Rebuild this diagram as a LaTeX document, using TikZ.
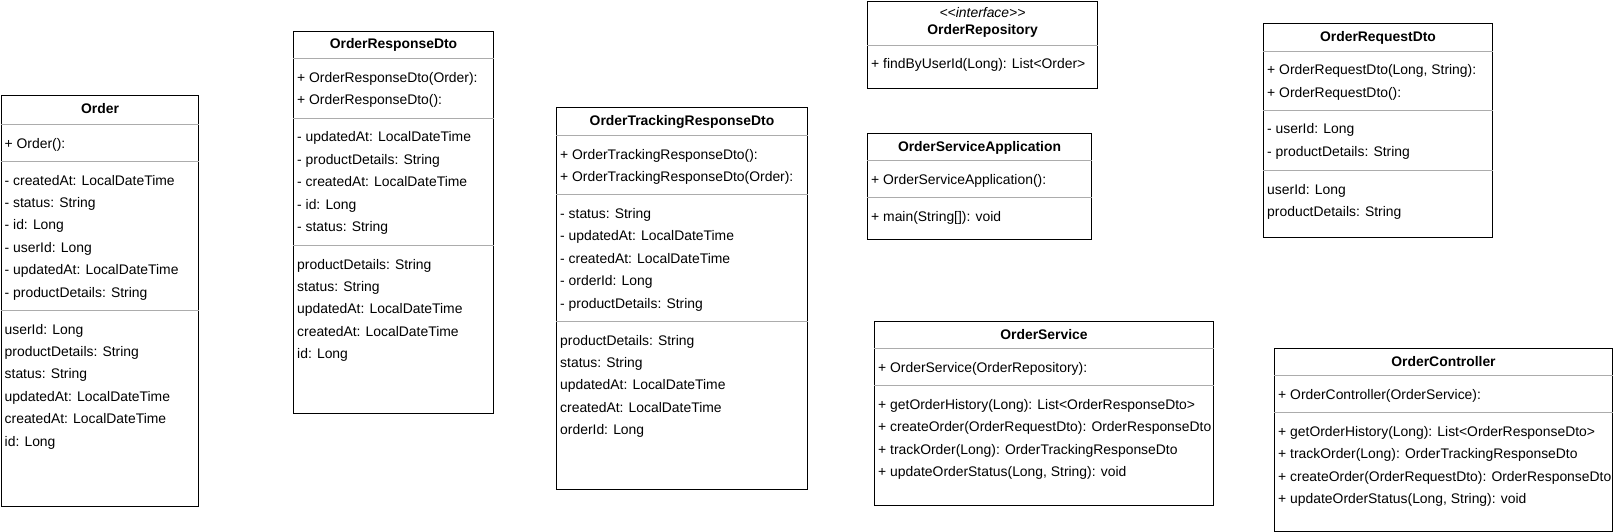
\documentclass[tikz,border=0pt]{standalone}
\usepackage{fontspec}
\setmainfont{Liberation Sans}

\begin{document}
\begin{tikzpicture}[x=1pt, y=-1pt,
    font=\fontsize{13.9}{16}\selectfont,
    classbox/.style={draw, line width=1pt, anchor=north west, inner sep=0pt},
    sep/.style={draw=gray!65, line width=0.8pt},
    classname/.style={font=\fontsize{13.9}{16}\selectfont\bfseries,
      inner sep=0pt, text height=10pt, text depth=3pt, yshift=-1pt},
    member/.style={anchor=west, inner sep=0pt, text height=10pt, text depth=3pt, yshift=-1.5pt}]
  \useasboundingbox (0,0) rectangle (1613,532);

  % Order
  \node[classbox, minimum width=197pt, minimum height=411pt] (order) at (1,95) {};
  \node[classname] (order-name) at (order.north |- 0,109) {Order};
  \draw[sep] (order.west |- 0,124) -- (order.east |- 0,124);
  \draw[sep] (order.west |- 0,161) -- (order.east |- 0,161);
  \draw[sep] (order.west |- 0,310) -- (order.east |- 0,310);
  \node[member] (order-c0) at (4.5,143) {+ Order():};
  \foreach \m [count=\i from 0] in {{- createdAt: LocalDateTime}, {- status: String},
      {- id: Long}, {- userId: Long}, {- updatedAt: LocalDateTime}, {- productDetails: String}}
    \node[member] (order-f\i) at (4.5,180+22.4*\i) {\m};
  \foreach \m [count=\i from 0] in {{userId: Long}, {productDetails: String}, {status: String},
      {updatedAt: LocalDateTime}, {createdAt: LocalDateTime}, {id: Long}}
    \node[member] (order-g\i) at (4.5,329+22.4*\i) {\m};

  % OrderResponseDto
  \node[classbox, minimum width=200pt, minimum height=382pt] (resp) at (293,31) {};
  \node[classname] (resp-name) at (resp.north |- 0,44.5) {OrderResponseDto};
  \draw[sep] (resp.west |- 0,58) -- (resp.east |- 0,58);
  \draw[sep] (resp.west |- 0,118) -- (resp.east |- 0,118);
  \draw[sep] (resp.west |- 0,245) -- (resp.east |- 0,245);
  \foreach \m [count=\i from 0] in {{+ OrderResponseDto(Order):}, {+ OrderResponseDto():}}
    \node[member] (resp-c\i) at (297,77.5+22.4*\i) {\m};
  \foreach \m [count=\i from 0] in {{- updatedAt: LocalDateTime}, {- productDetails: String},
      {- createdAt: LocalDateTime}, {- id: Long}, {- status: String}}
    \node[member] (resp-f\i) at (297,137+22.4*\i) {\m};
  \foreach \m [count=\i from 0] in {{productDetails: String}, {status: String},
      {updatedAt: LocalDateTime}, {createdAt: LocalDateTime}, {id: Long}}
    \node[member] (resp-g\i) at (297,264+22.4*\i) {\m};

  % OrderTrackingResponseDto
  \node[classbox, minimum width=251pt, minimum height=382pt] (track) at (556,107) {};
  \node[classname] (track-name) at (track.north |- 0,121) {OrderTrackingResponseDto};
  \draw[sep] (track.west |- 0,135) -- (track.east |- 0,135);
  \draw[sep] (track.west |- 0,194.5) -- (track.east |- 0,194.5);
  \draw[sep] (track.west |- 0,321) -- (track.east |- 0,321);
  \foreach \m [count=\i from 0] in {{+ OrderTrackingResponseDto():}, {+ OrderTrackingResponseDto(Order):}}
    \node[member] (track-c\i) at (560,154+22.4*\i) {\m};
  \foreach \m [count=\i from 0] in {{- status: String}, {- updatedAt: LocalDateTime},
      {- createdAt: LocalDateTime}, {- orderId: Long}, {- productDetails: String}}
    \node[member] (track-f\i) at (560,213.4+22.4*\i) {\m};
  \foreach \m [count=\i from 0] in {{productDetails: String}, {status: String},
      {updatedAt: LocalDateTime}, {createdAt: LocalDateTime}, {orderId: Long}}
    \node[member] (track-g\i) at (560,340+22.4*\i) {\m};

  % OrderRepository
  \node[classbox, minimum width=230pt, minimum height=87pt] (repo) at (867,1) {};
  \node[classname, font=\fontsize{13.9}{16}\selectfont\itshape] (repo-stereo) at (repo.north |- 0,13.5) {<{}<interface>{}>};
  \node[classname] (repo-name) at (repo.north |- 0,30) {OrderRepository};
  \draw[sep] (repo.west |- 0,45) -- (repo.east |- 0,45);
  \node[member] (repo-m0) at (871,64) {+ findByUserId(Long): List<Order>};

  % OrderServiceApplication
  \node[classbox, minimum width=224pt, minimum height=106pt] (app) at (867,133) {};
  \node[classname] (app-name) at (app.north |- 0,146.5) {OrderServiceApplication};
  \draw[sep] (app.west |- 0,160) -- (app.east |- 0,160);
  \draw[sep] (app.west |- 0,197) -- (app.east |- 0,197);
  \node[member] (app-c0) at (871,179) {+ OrderServiceApplication():};
  \node[member] (app-m0) at (871,216) {+ main(String[]): void};

  % OrderService
  \node[classbox, minimum width=339pt, minimum height=184pt] (service) at (874,321) {};
  \node[classname] (service-name) at (service.north |- 0,334.5) {OrderService};
  \draw[sep] (service.west |- 0,348) -- (service.east |- 0,348);
  \draw[sep] (service.west |- 0,385.5) -- (service.east |- 0,385.5);
  \node[member] (service-c0) at (878,367) {+ OrderService(OrderRepository):};
  \foreach \m [count=\i from 0] in {{+ getOrderHistory(Long): List<OrderResponseDto>},
      {+ createOrder(OrderRequestDto): OrderResponseDto},
      {+ trackOrder(Long): OrderTrackingResponseDto},
      {+ updateOrderStatus(Long, String): void}}
    \node[member] (service-m\i) at (878,404.5+22.4*\i) {\m};

  % OrderRequestDto
  \node[classbox, minimum width=229pt, minimum height=214pt] (req) at (1263,23) {};
  \node[classname] (req-name) at (req.north |- 0,37) {OrderRequestDto};
  \draw[sep] (req.west |- 0,51) -- (req.east |- 0,51);
  \draw[sep] (req.west |- 0,110) -- (req.east |- 0,110);
  \draw[sep] (req.west |- 0,170) -- (req.east |- 0,170);
  \foreach \m [count=\i from 0] in {{+ OrderRequestDto(Long, String):}, {+ OrderRequestDto():}}
    \node[member] (req-c\i) at (1267,70+22.4*\i) {\m};
  \foreach \m [count=\i from 0] in {{- userId: Long}, {- productDetails: String}}
    \node[member] (req-f\i) at (1267,129+22.4*\i) {\m};
  \foreach \m [count=\i from 0] in {{userId: Long}, {productDetails: String}}
    \node[member] (req-g\i) at (1267,189+22.4*\i) {\m};

  % OrderController
  \node[classbox, minimum width=338pt, minimum height=183pt] (ctrl) at (1274,348) {};
  \node[classname] (ctrl-name) at (ctrl.north |- 0,361.5) {OrderController};
  \draw[sep] (ctrl.west |- 0,375) -- (ctrl.east |- 0,375);
  \draw[sep] (ctrl.west |- 0,412.4) -- (ctrl.east |- 0,412.4);
  \node[member] (ctrl-c0) at (1278,394) {+ OrderController(OrderService):};
  \foreach \m [count=\i from 0] in {{+ getOrderHistory(Long): List<OrderResponseDto>},
      {+ trackOrder(Long): OrderTrackingResponseDto},
      {+ createOrder(OrderRequestDto): OrderResponseDto},
      {+ updateOrderStatus(Long, String): void}}
    \node[member] (ctrl-m\i) at (1278,431.4+22.4*\i) {\m};
\end{tikzpicture}
\end{document}
